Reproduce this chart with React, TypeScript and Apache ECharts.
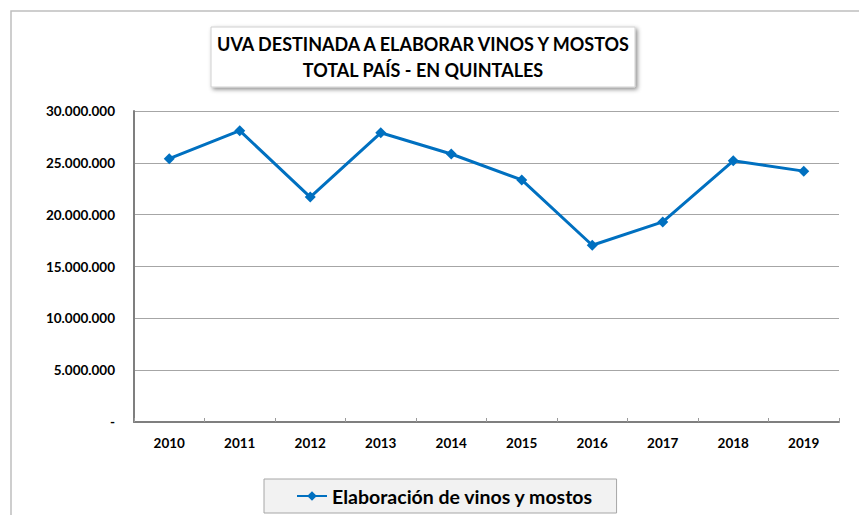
import React, { useEffect, useRef } from "react";
import * as echarts from "echarts";

const years = ["2010", "2011", "2012", "2013", "2014", "2015", "2016", "2017", "2018", "2019"];
const elaboracion = [25400000, 28100000, 21700000, 27900000, 25850000, 23350000, 17050000, 19300000, 25200000, 24200000];
const seriesName = "Elaboración de vinos y mostos";
const titleLines = ["UVA DESTINADA A ELABORAR VINOS Y MOSTOS", "TOTAL PAÍS - EN QUINTALES"];

const fmt = (v: number) => {
  if (v === 0) return "-";
  return String(Math.round(v)).replace(/\B(?=(\d{3})+(?!\d))/g, ".");
};

export default function App() {
  const ref = useRef<HTMLDivElement>(null);
  useEffect(() => {
    document.body.style.margin = "0";
    const chart = echarts.init(ref.current!, null, { renderer: "svg" });
    const font = "Lato, 'Open Sans', sans-serif";
    chart.setOption({
      animation: false,
      backgroundColor: "#ffffff",
      grid: { left: 134, right: 20, top: 111, bottom: 93, containLabel: false },
      xAxis: {
        type: "category",
        data: years,
        boundaryGap: true,
        axisLine: { show: true, lineStyle: { color: "#7f7f7f", width: 2 } },
        axisTick: { show: true, inside: true, length: 4, lineStyle: { color: "#9a9a9a" } },
        axisLabel: { color: "#000", fontWeight: "bold", fontSize: 13.5, fontFamily: font, margin: 14 },
      },
      yAxis: {
        type: "value",
        min: 0,
        max: 30000000,
        interval: 5000000,
        axisLine: { show: true, lineStyle: { color: "#7f7f7f", width: 2 } },
        axisTick: { show: false },
        axisLabel: { color: "#000", fontWeight: "bold", fontSize: 13.5, fontFamily: font, margin: 19, formatter: fmt },
        splitLine: { show: true, lineStyle: { color: "#a6a6a6", width: 1 } },
      },
      legend: {
        show: true,
        left: 264,
        top: 479,
        data: [seriesName],
        itemWidth: 30,
        itemHeight: 12,
        itemGap: 4,
        padding: [7, 23, 7, 32],
        borderColor: "#a6a6a6",
        borderWidth: 1,
        backgroundColor: "#f2f2f2",
        textStyle: { color: "#000", fontWeight: "bold", fontSize: 19.5, fontFamily: font },
      },
      graphic: [
        {
          type: "rect",
          silent: true,
          shape: { x: 11, y: 11, width: 900, height: 600 },
          style: { fill: "none", stroke: "#bfbfbf", lineWidth: 1.5 },
          z: -10,
        },
        {
          type: "rect",
          silent: true,
          shape: { x: 211, y: 27, width: 424, height: 60 },
          style: {
            fill: "#ffffff",
            stroke: "#d0d0d0",
            lineWidth: 1,
            shadowBlur: 4,
            shadowOffsetX: 2,
            shadowOffsetY: 2,
            shadowColor: "rgba(0,0,0,0.45)",
          },
        },
        {
          type: "text",
          silent: true,
          x: 423,
          y: 44,
          style: { text: titleLines[0], fill: "#000", font: `bold 18px ${font}`, textAlign: "center", textVerticalAlign: "middle" },
        },
        {
          type: "text",
          silent: true,
          x: 423,
          y: 70,
          style: { text: titleLines[1], fill: "#000", font: `bold 18px ${font}`, textAlign: "center", textVerticalAlign: "middle" },
        },
      ],
      series: [
        {
          name: seriesName,
          type: "line",
          data: elaboracion,
          symbol: "diamond",
          symbolSize: 11,
          lineStyle: { color: "#0070c0", width: 3 },
          itemStyle: { color: "#0070c0" },
        },
      ],
    });
    return () => chart.dispose();
  }, []);
  return <div ref={ref} style={{ position: "absolute", left: 0, top: 0, width: 859, height: 515 }} />;
}
